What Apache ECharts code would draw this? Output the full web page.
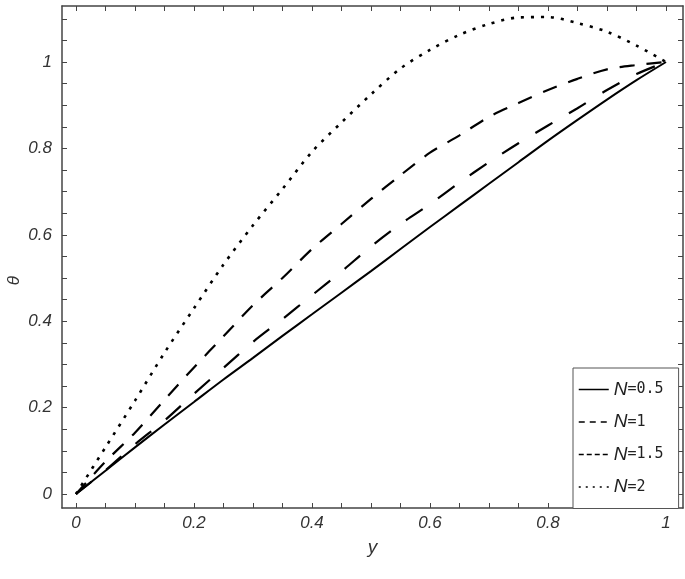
<!DOCTYPE html>
<html><head><meta charset="utf-8">
<script src="https://cdn.jsdelivr.net/npm/echarts@6/dist/echarts.min.js"></script>
<style>html,body{margin:0;padding:0;background:#fff}#c{width:685px;height:579px}</style>
</head><body><div id="c"></div>
<script>
// data
const yValues   = [0,0.05,0.1,0.15,0.2,0.25,0.3,0.35,0.4,0.45,0.5,0.55,0.6,0.65,0.7,0.75,0.8,0.85,0.9,0.95,1];
const thetaN05  = [0,0.054,0.108,0.161,0.213,0.265,0.315,0.366,0.416,0.466,0.516,0.567,0.618,0.668,0.718,0.768,0.818,0.866,0.913,0.958,1];
const thetaN1   = [0,0.055,0.115,0.17,0.232,0.292,0.352,0.405,0.46,0.515,0.573,0.625,0.671,0.721,0.768,0.812,0.853,0.893,0.935,0.972,1];
const thetaN15  = [0,0.075,0.142,0.218,0.293,0.365,0.437,0.5,0.567,0.625,0.683,0.738,0.79,0.83,0.873,0.905,0.935,0.961,0.983,0.993,1];
const thetaN2   = [0,0.108,0.216,0.327,0.43,0.531,0.622,0.706,0.792,0.86,0.925,0.985,1.028,1.063,1.088,1.103,1.104,1.09,1.07,1.038,1];
const seriesNames = ['N=0.5','N=1','N=1.5','N=2'];
const majorTicks = [0,0.2,0.4,0.6,0.8,1];
const tickLabels = ['0','0.2','0.4','0.6','0.8','1'];
const minorTicks = [0,0.05,0.1,0.15,0.2,0.25,0.3,0.35,0.4,0.45,0.5,0.55,0.6,0.65,0.7,0.75,0.8,0.85,0.9,0.95,1];
const yMinorTicks = [0,0.05,0.1,0.15,0.2,0.25,0.3,0.35,0.4,0.45,0.5,0.55,0.6,0.65,0.7,0.75,0.8,0.85,0.9,0.95,1,1.05,1.1];

const xMin=-0.0237, xMax=1.0288, yMin=-0.0324, yMax=1.1296;
const frameColor='#444';
function lab(v){ for(let i=0;i<majorTicks.length;i++){ if(Math.abs(v-majorTicks[i])<1e-6) return tickLabels[i]; } return ''; }
function axis(pos, min, max, ticks, showLabel){
  return {
    type:'value', min:min, max:max, position:pos,
    axisLine:{show:true,onZero:false,lineStyle:{color:frameColor,width:1.5}},
    axisTick:{show:true,inside:true,length:5,customValues:ticks,lineStyle:{color:frameColor,width:1}},
    axisLabel:{show:showLabel,customValues:majorTicks,formatter:lab,margin:(pos==='left'?10:7),
      fontFamily:'Liberation Sans',fontStyle:'italic',fontSize:17,color:'#333'},
    splitLine:{show:false}
  };
}
function pairs(ys){ return yValues.map((x,i)=>[x,ys[i]]); }
const styles = [
  {type:'solid',width:2},
  {type:[20,19],width:2.2},
  {type:[15,12],width:2.2},
  {type:[3,7],width:2.6}
];
const legendStyles = [
  {type:'solid'},
  {type:[6,5]},
  {type:[5,3]},
  {type:[2,5]}
];
const datas=[thetaN05,thetaN1,thetaN15,thetaN2];
const chart = echarts.init(document.getElementById('c'),null,{renderer:'canvas'});
chart.setOption({
  animation:false,
  backgroundColor:'#fff',
  grid:{left:62,right:2,top:6,bottom:71,containLabel:false,outerBoundsMode:'none'},
  xAxis:[Object.assign(axis('bottom',xMin,xMax,minorTicks,true),{name:'y',nameLocation:'middle',nameGap:30,
          nameTextStyle:{fontFamily:'Liberation Sans',fontStyle:'italic',fontSize:19,color:'#333'}}),
         axis('top',xMin,xMax,minorTicks,false)],
  yAxis:[axis('left',yMin,yMax,yMinorTicks,true), axis('right',yMin,yMax,yMinorTicks,false)],
  graphic:[{type:'text',left:6,top:276,rotation:Math.PI/2,
    style:{text:'θ',fontFamily:'Liberation Sans',fontStyle:'italic',fontSize:17,fill:'#333'}}],
  legend:{
    orient:'vertical',left:573,top:368,padding:[12,15,12,5],itemGap:13.5,itemWidth:30,itemHeight:20,itemTextGap:7,
    borderColor:'#555',borderWidth:1,backgroundColor:'#fff',
    itemStyle:{opacity:0},
    data:seriesNames.map((n,i)=>({name:n,itemStyle:{opacity:0},lineStyle:Object.assign({width:1.5,color:'#000'},legendStyles[i])})),
    formatter:n=>'{i|N}{m|'+n.slice(1)+'}',
    textStyle:{rich:{i:{fontFamily:'Liberation Sans',fontStyle:'italic',fontSize:19,color:'#222'},
                     m:{fontFamily:'DejaVu Sans Mono',fontSize:15,color:'#222'}}}
  },
  series:datas.map((d,i)=>({
    name:seriesNames[i],type:'line',symbol:'none',smooth:0.3,data:pairs(d),
    lineStyle:Object.assign({color:'#000'},styles[i]),itemStyle:{color:'#000'},z:2
  }))
});
</script></body></html>
